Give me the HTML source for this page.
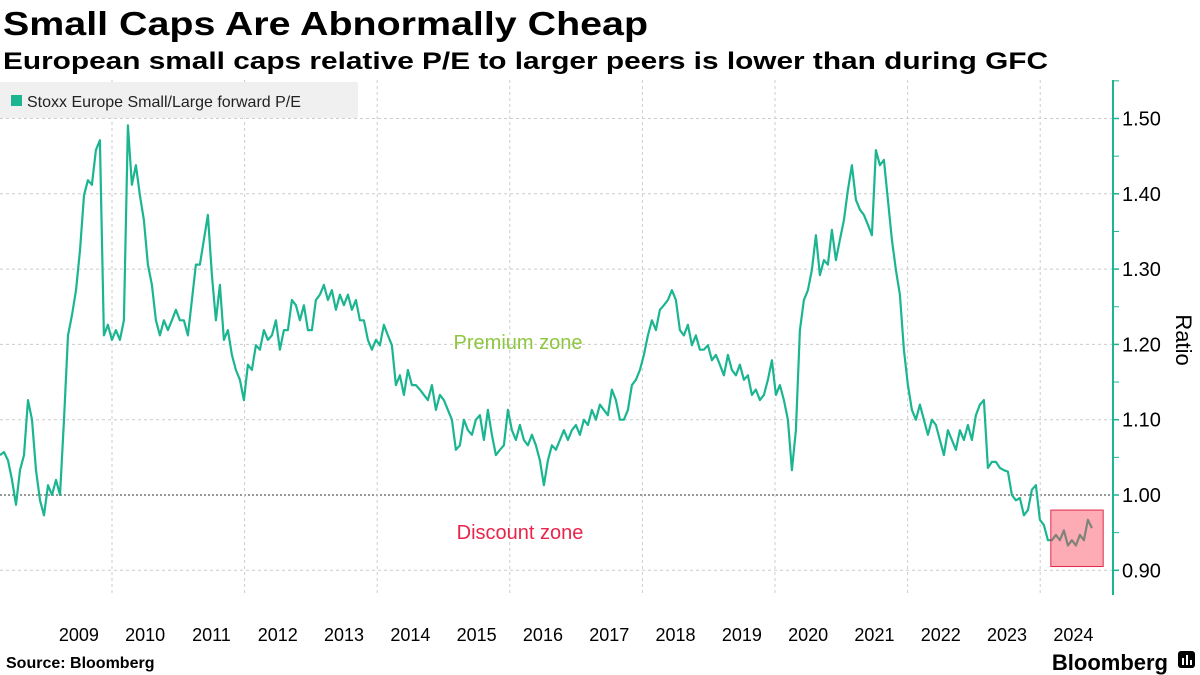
<!DOCTYPE html>
<html><head><meta charset="utf-8"><style>
html,body{margin:0;padding:0;background:#fff;}
svg{display:block;font-family:"Liberation Sans","DejaVu Sans",sans-serif;}
</style></head><body>
<svg id="chart" width="1200" height="675" viewBox="0 0 1200 675">
<text x="3" y="35" font-size="33" font-weight="bold" fill="#000" textLength="645" lengthAdjust="spacingAndGlyphs">Small Caps Are Abnormally Cheap</text>
<text x="3" y="69" font-size="24" font-weight="bold" fill="#000" textLength="1045" lengthAdjust="spacingAndGlyphs">European small caps relative P/E to larger peers is lower than during GFC</text>
<g id="grid"></g>
<g id="series"></g>
<g id="axes"></g>
<g>
<rect x="0" y="82" width="358" height="36" fill="#f0f0f0"/>
<rect x="11" y="95" width="11" height="11" fill="#1bb591"/>
<text x="27" y="107" font-size="16" fill="#222">Stoxx Europe Small/Large forward P/E</text>
</g>
<text x="518" y="349" font-size="20" fill="#8dc63f" text-anchor="middle">Premium zone</text>
<text x="520" y="539" font-size="20" fill="#e8254a" text-anchor="middle">Discount zone</text>
<text transform="translate(1176,340) rotate(90)" font-size="22" fill="#000" text-anchor="middle">Ratio</text>
<text x="6" y="668" font-size="16" font-weight="bold" fill="#000">Source: Bloomberg</text>
<text x="1168" y="670" font-size="22" font-weight="bold" fill="#000" text-anchor="end">Bloomberg</text>
<g>
<rect x="1178" y="651" width="17" height="17" rx="3" fill="#000"/>
<rect x="1182" y="658" width="2" height="7" fill="#fff"/><rect x="1186" y="655" width="2" height="10" fill="#fff"/><rect x="1190" y="660" width="2" height="5" fill="#fff"/>
</g>
</svg>
<script>
const yTicks = [0.9, 1.0, 1.1, 1.2, 1.3, 1.4, 1.5];
const yTickLabels = ["0.90","1.00","1.10","1.20","1.30","1.40","1.50"];
const years = [2009,2010,2011,2012,2013,2014,2015,2016,2017,2018,2019,2020,2021,2022,2023,2024];
const gridYears = [2010,2012,2014,2016,2018,2020,2022,2024];
const seriesStart = 2008.31;
const seriesEnd = 2024.78;
const values = [1.053,1.057,1.046,1.020,0.987,1.033,1.053,1.126,1.100,1.033,0.993,0.973,1.013,1.000,1.020,1.000,1.100,1.212,1.239,1.272,1.325,1.398,1.418,1.412,1.458,1.471,
1.212,1.226,1.206,1.219,1.206,1.232,1.491,1.412,1.438,1.398,1.365,1.306,1.279,1.232,1.212,1.232,1.219,1.232,1.246,1.232,1.232,1.212,1.259,1.306,1.306,1.339,1.372,1.292,1.232,1.279,1.206,1.219,1.186,1.166,1.153,1.126,
1.173,1.166,1.199,1.193,1.219,1.206,1.212,1.232,1.193,1.219,1.219,1.259,1.252,1.232,1.252,1.219,1.219,1.259,1.266,1.279,1.259,1.272,1.246,1.266,1.252,1.266,1.246,1.259,1.232,1.232,1.206,1.193,1.206,1.199,1.226,1.212,1.199,1.146,1.159,1.133,1.166,1.146,1.146,1.140,1.133,1.126,1.146,1.113,1.133,1.126,1.113,1.100,1.060,1.066,1.100,1.086,1.080,1.100,1.106,1.073,1.113,1.080,1.053,1.060,1.066,1.113,1.086,1.073,1.093,1.073,1.066,1.080,1.066,1.046,1.013,1.046,1.066,1.060,1.073,1.086,1.073,1.086,1.093,1.080,1.100,1.093,1.113,1.100,1.120,1.113,1.106,1.140,1.126,1.100,1.100,1.113,1.146,1.153,1.166,1.186,1.212,1.232,1.219,1.246,1.252,1.259,1.272,1.259,1.219,1.212,1.226,1.199,1.212,1.193,1.193,1.199,1.179,1.186,1.173,1.159,1.186,1.166,1.159,1.173,1.153,1.159,1.133,1.140,1.126,1.133,1.153,1.179,1.133,1.146,1.126,1.100,1.033,1.086,1.219,1.259,1.272,1.299,1.345,1.292,1.312,1.306,1.352,1.312,1.339,1.365,1.405,1.438,1.392,1.379,1.372,1.359,1.345,1.458,1.438,1.445,1.392,1.339,1.299,1.266,1.193,1.146,1.113,1.100,1.120,1.100,1.080,1.100,1.093,1.073,1.053,1.086,1.073,1.060,1.086,1.073,1.093,1.073,1.106,1.120,1.126,1.036,1.044,1.044,1.036,1.033,1.031,1.000,0.993,0.996,0.973,0.980,1.007,1.013,0.967,0.960,0.940,0.940,0.947,0.940,0.953,0.933,0.940,0.933,0.947,0.940,0.967,0.956];
const boxRange = {t0: 2024.16, t1: 2024.95, v0: 0.905, v1: 0.98};

const NS = "http://www.w3.org/2000/svg";
const xOf = t => 112 + (t - 2010) * 66.3;
const yOf = v => 495 - (v - 1) * 753;
const PLOT_R = 1112, PLOT_T = 80, PLOT_B = 595;
function mk(tag, attrs, parent) {
  const e = document.createElementNS(NS, tag);
  for (const k in attrs) e.setAttribute(k, attrs[k]);
  parent.appendChild(e);
  return e;
}
const grid = document.getElementById('grid');
const axes = document.getElementById('axes');
const series = document.getElementById('series');

yTicks.forEach((v, i) => {
  const isOne = Math.abs(v - 1) < 1e-9;
  const l = mk('line', {x1: 0, x2: PLOT_R, y1: yOf(v), y2: yOf(v),
    stroke: isOne ? '#999' : '#ccc', 'stroke-width': isOne ? 2 : 1,
    'stroke-dasharray': isOne ? '2,2' : '3,3'}, grid);
  
  
  const tk = mk('line', {x1: PLOT_R, x2: PLOT_R + 7, y1: yOf(v), y2: yOf(v), stroke: '#1bb591', 'stroke-width': 1.5}, axes);
  
  
  const mt = mk('line', {x1: PLOT_R, x2: PLOT_R + 7, y1: yOf(v + 0.05), y2: yOf(v + 0.05), stroke: '#1bb591', 'stroke-width': 1}, axes);
  
  
  const t = mk('text', {x: 1122, y: yOf(v) + 7, 'font-size': 20, fill: '#000'}, axes);
  t.textContent = yTickLabels[i];
  
  
});
gridYears.forEach(y => {
  const l = mk('line', {x1: xOf(y), x2: xOf(y), y1: PLOT_T, y2: PLOT_B, stroke: '#ccc', 'stroke-width': 1, 'stroke-dasharray': '3,3'}, grid);
  
  
});
years.forEach(y => {
  const t = mk('text', {x: xOf(y + 0.5), y: 641, 'font-size': 18, fill: '#000', 'text-anchor': 'middle'}, axes);
  t.textContent = String(y);
  
  
});
const yAxis = mk('line', {x1: PLOT_R + 1, x2: PLOT_R + 1, y1: PLOT_T, y2: PLOT_B, stroke: '#1bb591', 'stroke-width': 2}, axes);



const n = values.length;
const pts = values.map((v, i) => {
  const t = seriesStart + i * (seriesEnd - seriesStart) / (n - 1);
  return xOf(t).toFixed(1) + ',' + yOf(v).toFixed(1);
}).join(' ');
const line = mk('polyline', {points: pts, fill: 'none', stroke: '#1bb591', 'stroke-width': 2.2, 'stroke-linejoin': 'round'}, series);



const box = mk('rect', {x: xOf(boxRange.t0), y: yOf(boxRange.v1), width: xOf(boxRange.t1) - xOf(boxRange.t0),
  height: yOf(boxRange.v0) - yOf(boxRange.v1), fill: 'rgba(250,70,90,0.45)', stroke: '#e0284a', 'stroke-width': 1}, series);


</script>
</body></html>
